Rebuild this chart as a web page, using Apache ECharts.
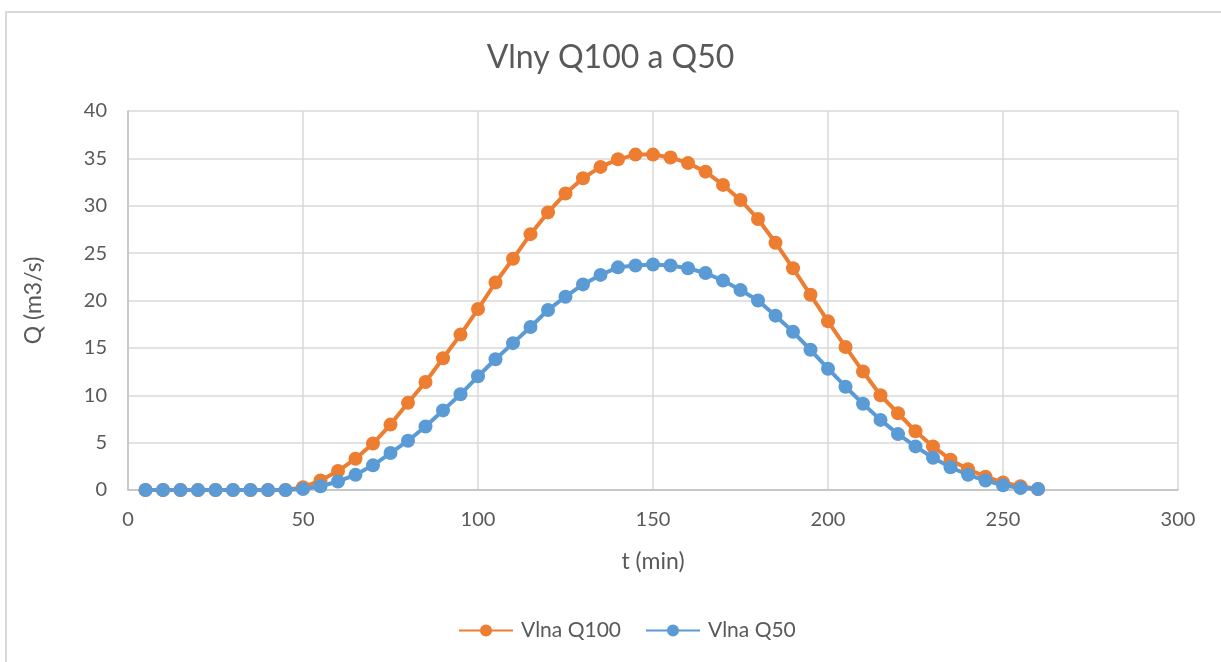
<!DOCTYPE html>
<html>
<head>
<meta charset="utf-8">
<script src="https://cdn.jsdelivr.net/npm/echarts@6/dist/echarts.min.js"></script>
<style>
html,body{margin:0;padding:0;background:#fff;}
#chart{width:1221px;height:662px;}
</style>
</head>
<body>
<div id="chart"></div>
<script>
const times = [5,10,15,20,25,30,35,40,45,50,55,60,65,70,75,80,85,90,95,100,105,110,115,120,125,130,135,140,145,150,155,160,165,170,175,180,185,190,195,200,205,210,215,220,225,230,235,240,245,250,255,260];
const q100 = [0,0,0,0,0,0,0,0,0,0.3,1.0,2.0,3.3,4.9,6.9,9.2,11.4,13.9,16.4,19.1,21.9,24.4,27.0,29.3,31.3,32.9,34.1,34.9,35.4,35.4,35.1,34.5,33.6,32.2,30.6,28.6,26.1,23.4,20.6,17.8,15.1,12.5,10.0,8.1,6.2,4.6,3.2,2.2,1.4,0.8,0.4,0.1];
const q50 = [0,0,0,0,0,0,0,0,0,0.1,0.4,0.9,1.6,2.6,3.9,5.2,6.7,8.4,10.1,12.0,13.8,15.5,17.2,19.0,20.4,21.7,22.7,23.5,23.7,23.8,23.7,23.4,22.9,22.1,21.1,20.0,18.4,16.7,14.8,12.8,10.9,9.1,7.4,5.9,4.6,3.4,2.4,1.6,1.0,0.5,0.2,0.1];
const seriesNames = ['Vlna Q100','Vlna Q50'];
const titleText = 'Vlny Q100 a Q50';
const xName = 't (min)';
const yName = 'Q (m3/s)';

const FONT = 'Lato';
const TXT = '#595959';
const chart = echarts.init(document.getElementById('chart'));
const pair = arr => times.map((t,i)=>[t, arr[i]]);
chart.setOption({
  animation:false,
  backgroundColor:'#fff',
  textStyle:{fontFamily:FONT,color:TXT},
  graphic:[{type:'rect',shape:{x:6,y:12,width:1400,height:800},style:{fill:'none',stroke:'#d9d9d9',lineWidth:2},silent:true,z:-1}],
  title:{text:titleText,left:'center',top:37,textStyle:{fontFamily:FONT,fontSize:32,fontWeight:'normal',color:TXT}},
  grid:{left:128,top:111,right:43,bottom:172,containLabel:false},
  legend:{bottom:16,left:453,itemWidth:54,itemHeight:15,itemGap:24,
    textStyle:{fontFamily:FONT,fontSize:21,color:TXT,padding:[0,0,0,3]},data:seriesNames},
  xAxis:{type:'value',min:0,max:300,interval:50,
    name:xName,nameLocation:'middle',nameGap:60,
    nameTextStyle:{fontFamily:FONT,fontSize:23,color:TXT},
    axisLine:{show:true,lineStyle:{color:'#bfbfbf',width:1.5}},
    axisTick:{show:false},
    axisLabel:{fontFamily:FONT,fontSize:20,color:TXT,margin:20},
    splitLine:{show:true,lineStyle:{color:'#d9d9d9',width:1.5}}},
  yAxis:{type:'value',min:0,max:40,interval:5,
    name:yName,nameLocation:'middle',nameGap:83,nameRotate:90,
    nameTextStyle:{fontFamily:FONT,fontSize:23,color:TXT},
    axisLine:{show:true,lineStyle:{color:'#bfbfbf',width:1.5}},
    axisTick:{show:false},
    axisLabel:{fontFamily:FONT,fontSize:20,color:TXT,margin:21},
    splitLine:{show:true,lineStyle:{color:'#d9d9d9',width:1.5}}},
  series:[
    {name:seriesNames[0],type:'line',data:pair(q100),symbol:'circle',symbolSize:14,showAllSymbol:true,
      itemStyle:{color:'#ED7D31'},lineStyle:{color:'#ED7D31',width:4}},
    {name:seriesNames[1],type:'line',data:pair(q50),symbol:'circle',symbolSize:14,showAllSymbol:true,
      itemStyle:{color:'#5B9BD5'},lineStyle:{color:'#5B9BD5',width:4}}
  ]
});
</script>
</body>
</html>
